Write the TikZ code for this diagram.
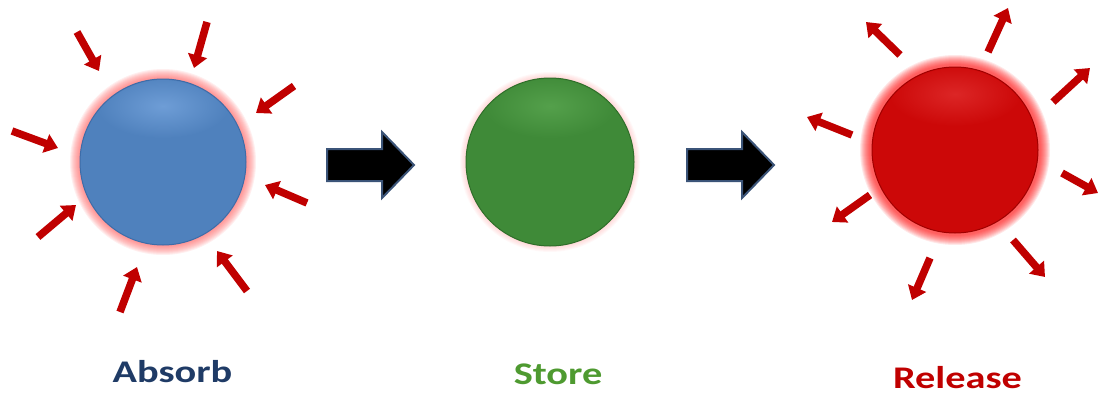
\documentclass[tikz,border=0pt]{standalone}
\usepackage{fontspec}
\usepackage{graphicx}
\setmainfont{Carlito}
\usetikzlibrary{arrows.meta}
\definecolor{arrred}{HTML}{C00000}
\definecolor{blueball}{HTML}{4F81BD}
\definecolor{blueedge}{HTML}{3D6CA8}
\definecolor{bluelight}{HTML}{6E9DD6}
\definecolor{greenball}{HTML}{3F8A38}
\definecolor{greenedge}{HTML}{2F6E2A}
\definecolor{greenlight}{HTML}{54A04B}
\definecolor{redball}{HTML}{CC0808}
\definecolor{rededge}{HTML}{A00000}
\definecolor{redlight}{HTML}{DC2626}
\definecolor{absorbcol}{HTML}{1F3B66}
\definecolor{storecol}{HTML}{4E9A30}
\definecolor{releasecol}{HTML}{C00000}
\definecolor{blockedge}{HTML}{3B5478}
\newcommand{\widetext}[1]{\scalebox{1.28}[1]{#1}}
\tikzset{
  x=1pt, y=-1pt,
  radarrow/.style={arrred, line width=7.5pt, -{Triangle[length=13pt,width=19pt]}},
  blockarrow/.style={fill=black, draw=blockedge, line width=2pt, line join=miter},
  label/.style={font=\fontsize{31.5}{38}\selectfont\bfseries, anchor=base},
  ball/.style={circle, inner sep=0, line width=1pt},
}
\begin{document}
\begin{tikzpicture}
\useasboundingbox[fill=white] (0,0) rectangle (1098,394);

% glows
\foreach \k in {1,...,10}{
  \fill[red!60, opacity=0.10] (163,162) circle ({83+11-\k});
  \fill[red!50, opacity=0.05] (550,162) circle ({84+7-\k});
  \fill[red, opacity=0.09] (955,150) circle ({83+13-\k});
}
% balls
\node[ball, minimum size=166pt, fill=blueball, draw=blueedge] (absorbball) at (163,162) {};
\node[ball, minimum size=168pt, fill=greenball, draw=greenedge] (storeball) at (550,162) {};
\node[ball, minimum size=166pt, fill=redball, draw=rededge] (releaseball) at (955,150) {};
\begin{scope}
  \clip (absorbball.center) circle (82);
  \shade[inner color=bluelight, outer color=blueball] (163,106) ellipse (66 and 32);
\end{scope}
\begin{scope}
  \clip (storeball.center) circle (83);
  \shade[inner color=greenlight, outer color=greenball] (550,106) ellipse (66 and 32);
\end{scope}
\begin{scope}
  \clip (releaseball.center) circle (82);
  \shade[inner color=redlight, outer color=redball] (955,94) ellipse (66 and 32);
\end{scope}

% inward arrows (absorb)
\foreach \i/\sx/\sy/\ex/\ey in {1/77/32/99/71, 2/207/22/194/68, 3/294/86/256/113, 4/12/131/58/148,
  5/307/203/265/185, 6/38/237/76/205, 7/120/312/137/267, 8/247/291/217/251}{
  \coordinate (in\i s) at (\sx,\sy);
  \coordinate (in\i e) at (\ex,\ey);
  \draw[radarrow] (in\i s) -- (in\i e);
}
% outward arrows (release)
\foreach \i/\sx/\sy/\ex/\ey in {1/900/55/866/22, 2/988/52/1008/8, 3/1053/102/1090/68, 4/852/135/807/117,
  5/1062/173/1098/193, 6/870/195/832/222, 7/1013/240/1045/277, 8/930/258/912/300}{
  \coordinate (out\i s) at (\sx,\sy);
  \coordinate (out\i e) at (\ex,\ey);
  \draw[radarrow] (out\i s) -- (out\i e);
}

% block arrows
\draw[blockarrow] (327,149) -- (382,149) -- (382,132) -- (414,165) -- (382,198) -- (382,181) -- (327,181) -- cycle;
\draw[blockarrow] (687,149) -- (742,149) -- (742,132) -- (774,165) -- (742,198) -- (742,181) -- (687,181) -- cycle;

% labels
\node[label, text=absorbcol] (absorb) at (172.5,382) {\widetext{Absorb}};
\node[label, text=storecol] (store) at (558,384) {\widetext{Store}};
\node[label, text=releasecol] (release) at (957.5,388) {\widetext{Release}};
\end{tikzpicture}
\end{document}
